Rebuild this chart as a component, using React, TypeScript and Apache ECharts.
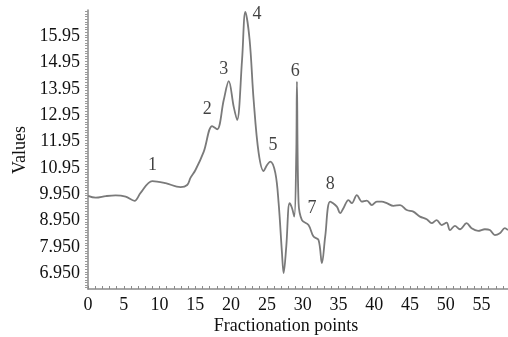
import React, { useEffect, useRef } from "react";
import * as echarts from "echarts";

const fractionX = [
  0, 1.07, 2.5, 3.86, 5.26, 6.51, 7.35, 8.98, 10.84, 12.94, 13.86, 14.32, 15.02, 16.18, 17.35, 18.05,
  18.97, 19.67, 20.36, 20.84, 21.53, 21.99, 22.59, 23.15, 23.85, 24.55, 25.0, 25.48, 26.18, 26.64,
  27.11, 27.34, 27.71, 28.17, 28.51, 28.83, 29.11, 29.2, 29.43, 29.9, 30.82, 31.52, 32.22, 32.69,
  33.15, 33.85, 34.78, 35.24, 35.7, 36.4, 36.88, 37.57, 38.27, 38.97, 39.67, 40.36, 41.06, 41.76,
  42.68, 43.61, 44.55, 45.47, 46.4, 47.34, 48.03, 48.73, 49.43, 50.12, 50.59, 51.28, 51.98, 52.91,
  53.61, 54.53, 55.47, 56.16, 56.86, 57.56, 58.26, 58.7,
];
const values = [
  9.84, 9.77, 9.83, 9.86, 9.81, 9.65, 9.95, 10.40, 10.32, 10.17, 10.25, 10.52, 10.82, 11.52, 12.49, 12.37,
  13.48, 14.20, 13.23, 12.72, 15.00, 16.83, 15.76, 13.48, 11.47, 10.78, 11.0, 11.14, 10.71, 9.57,
  7.67, 6.90, 7.91, 9.56, 9.38, 9.05, 11.47, 14.18, 9.57, 8.92, 8.73, 8.29, 8.16, 7.28,
  8.29, 9.62, 9.43, 9.18, 9.37, 9.68, 9.56, 9.87, 9.62, 9.66, 9.49, 9.62, 9.62, 9.56,
  9.46, 9.49, 9.30, 9.24, 9.05, 8.95, 8.80, 8.92, 8.73, 8.82, 8.54, 8.70, 8.57, 8.80,
  8.61, 8.51, 8.57, 8.54, 8.35, 8.42, 8.61, 8.54,
];

const peakNames = ["1", "2", "3", "4", "5", "6", "7", "8"];
const peakX = [9.02, 16.65, 18.97, 23.63, 25.86, 28.97, 31.3, 33.86];
const peakY = [11.05, 13.18, 14.69, 16.77, 11.81, 14.62, 9.43, 10.32];

const yTickLabels = ["6.950", "7.950", "8.950", "9.950", "10.95", "11.95", "12.95", "13.95", "14.95", "15.95"];
const yTickValues = [6.95, 7.95, 8.95, 9.95, 10.95, 11.95, 12.95, 13.95, 14.95, 15.95];
const xTickLabels = ["0", "5", "10", "15", "20", "25", "30", "35", "40", "45", "50", "55"];

const FONT = "'Liberation Serif', 'Times New Roman', serif";

export default function App() {
  const ref = useRef<HTMLDivElement>(null);
  useEffect(() => {
    if (!ref.current) return;
    const chart = echarts.init(ref.current, undefined, { renderer: "svg" });
    const yMinorTicks: number[] = [];
    for (let i = 0; i <= 105; i++) yMinorTicks.push(Math.round((6.35 + i * 0.1) * 100) / 100);
    chart.setOption({
      animation: false,
      grid: { left: 88, right: 0, top: 10, bottom: 48 },
      xAxis: {
        type: "value",
        min: 0,
        max: 58.7,
        interval: 5,
        axisLine: { lineStyle: { color: "#8a8a8a", width: 1.5 } },
        axisTick: { show: true, inside: true, length: 3, lineStyle: { color: "#8a8a8a" } },
        minorTick: { show: true, splitNumber: 5, length: 3, lineStyle: { color: "#8a8a8a" } },
        splitLine: { show: false },
        axisLabel: {
          showMaxLabel: false,
          margin: 6,
          color: "#111",
          fontSize: 18,
          fontFamily: FONT,
          formatter: (v: number) => {
            const idx = Math.round(v / 5);
            return Math.abs(v - idx * 5) < 1e-6 && xTickLabels[idx] !== undefined ? xTickLabels[idx] : "";
          },
        },
      },
      yAxis: {
        type: "value",
        min: 6.3,
        max: 16.9,
        axisLine: { show: true, lineStyle: { color: "#8a8a8a", width: 1.5 } },
        axisTick: { show: true, length: 3, customValues: yMinorTicks, lineStyle: { color: "#9a9a9a" } },
        splitLine: { show: false },
        axisLabel: {
          customValues: yTickValues,
          margin: 8,
          color: "#111",
          fontSize: 18,
          fontFamily: FONT,
          formatter: (v: number) => {
            const i = yTickValues.findIndex((t) => Math.abs(t - v) < 1e-6);
            return i >= 0 ? yTickLabels[i] : "";
          },
        },
      },
      series: [
        {
          type: "line",
          data: fractionX.map((x, i) => [x, values[i]]),
          showSymbol: false,
          smooth: 0.35,
          lineStyle: { color: "#7a7a7a", width: 1.8 },
        },
        {
          type: "scatter",
          data: peakX.map((x, i) => [x, peakY[i], peakNames[i]]),
          symbolSize: 0,
          label: {
            show: true,
            position: "inside",
            formatter: (p: any) => p.value[2],
            color: "#111",
            fontSize: 18,
            fontFamily: FONT,
          },
        },
      ],
      graphic: [
        {
          type: "text",
          x: 19,
          y: 150,
          rotation: Math.PI / 2,
          style: { text: "Values", fontSize: 18, fontFamily: FONT, fill: "#111", align: "center", verticalAlign: "middle" },
        },
        {
          type: "text",
          x: 286,
          y: 325,
          style: { text: "Fractionation points", fontSize: 18, fontFamily: FONT, fill: "#111", align: "center", verticalAlign: "middle" },
        },
      ],
    });
    return () => chart.dispose();
  }, []);
  return <div ref={ref} style={{ position: "fixed", left: 0, top: 0, width: 508, height: 337 }} />;
}
